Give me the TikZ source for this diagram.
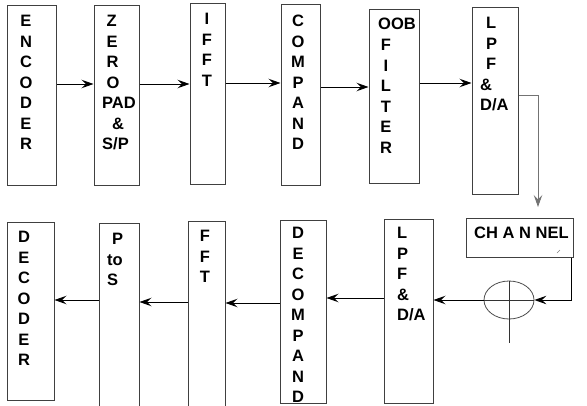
\documentclass[tikz,border=0pt]{standalone}
\usepackage{fontspec}
\setmainfont{Liberation Sans}
\usetikzlibrary{arrows.meta,shapes.geometric}
\tikzset{
  blk/.style={draw=black!75, line width=1pt, rectangle, inner sep=0pt},
  txt/.style={inner sep=0pt, font=\fontsize{16.5}{20.5}\selectfont\bfseries},
  arr/.style={draw=black, line width=0.9pt, -{Stealth[length=12pt,width=8.5pt,inset=4.5pt]}},
}
\begin{document}
\begin{tikzpicture}[x=1pt,y=-1pt]
\useasboundingbox (0,0) rectangle (587,405);
\clip (0,0) rectangle (587,405);
% top row boxes
\node[blk, minimum width=49pt, minimum height=180pt] (enc) at (31.5,95) {};
\node[blk, minimum width=45pt, minimum height=180pt] (zero) at (116.5,95) {};
\node[blk, minimum width=35pt, minimum height=181pt] (ifft) at (207.5,93.5) {};
\node[blk, minimum width=39pt, minimum height=181pt] (comp) at (300.5,94.5) {};
\node[blk, minimum width=50pt, minimum height=174pt] (oob) at (394,96) {};
\node[blk, minimum width=46pt, minimum height=187pt] (lpfa) at (495,100.5) {};
\node[blk, minimum width=107pt, minimum height=39pt] (chan) at (519.5,237.5) {};
% bottom row boxes
\node[blk, minimum width=49pt, minimum height=184pt] (lpfb) at (408.5,311) {};
\node[blk, minimum width=46pt, minimum height=183pt] (decomp) at (303,311.5) {};
\node[blk, minimum width=37pt, minimum height=189pt] (fft) at (206.5,315.5) {};
\node[blk, minimum width=40pt, minimum height=187pt] (pts) at (119,316.5) {};
\node[blk, minimum width=47pt, minimum height=178pt] (dec) at (30.5,311) {};
% texts
\node[txt, anchor=north, align=center] (tenc) at (26,15) {E\\N\\C\\O\\D\\E\\R};
\node[txt, anchor=north west, align=left] (tzero) at (102,15) {\hspace{4.5pt}Z\\\hspace{4.5pt}E\\\hspace{4.5pt}R\\\hspace{4.5pt}O\\PAD\\\hspace{10pt}\&\\S/P};
\node[txt, anchor=north, align=center] (tifft) at (207,13) {I\\F\\F\\T};
\node[txt, anchor=north, align=center] (tcomp) at (298,15) {C\\O\\M\\P\\A\\N\\D};
\node[txt, anchor=north] (toob) at (397,18) {OOB};
\node[txt, anchor=north, align=center] (tfilt) at (386,39) {F\\I\\L\\T\\E\\R};
\node[txt, anchor=north west, align=left] (tlpfa) at (480,17) {\hspace{6pt}L\\\hspace{6pt}P\\\hspace{6pt}F\\\&\\D/A};
\node[txt, anchor=west] (tchan) at (474,233) {CH A N NEL};
\node[txt, anchor=north west, align=left] (tlpfb) at (397,227) {L\\P\\F\\\&\\D/A};
\node[txt, anchor=north, align=center] (tdecomp) at (298,227) {D\\E\\C\\O\\M\\P\\A\\N\\D};
\node[txt, anchor=north, align=center] (tfft) at (205,230) {F\\F\\T};
\node[txt, anchor=north west, align=left] (tpts) at (107,233) {\hspace{5pt}P\\to\\S};
\node[txt, anchor=north, align=center] (tdec) at (24,231) {D\\E\\C\\O\\D\\E\\R};
% summing junction
\node[draw=black!70, line width=0.8pt, ellipse, minimum width=50pt, minimum height=38pt, inner sep=0pt] (sum) at (509,300) {};
\draw[black!80, line width=0.8pt] (sum.north) -- ([yshift=-24pt]sum.south);
\draw[black!80, line width=0.8pt] ([xshift=-3pt]sum.west) -- (sum.east);
\draw[gray, line width=0.6pt] (557,253) -- (560,250);
% top connectors
\draw[arr] (enc.east |- 0,84) -- (zero.west |- 0,84);
\draw[arr] (zero.east |- 0,84) -- (ifft.west |- 0,84);
\draw[arr] (ifft.east |- 0,83) -- (comp.west |- 0,83);
\draw[arr] (comp.east |- 0,87) -- (oob.west |- 0,87);
\draw[arr] (oob.east |- 0,83) -- (lpfa.west |- 0,83);
\coordinate (chin) at (538,207);
\draw[arr, draw=black!55] (lpfa.east |- 0,95) -| (chin);
% bottom connectors
\draw[arr] ([xshift=-2pt]chan.south east) |- (sum.east);
\draw[arr] (sum.west) -- (lpfb.east |- 0,300);
\draw[arr] (lpfb.west |- 0,298) -- (decomp.east |- 0,298);
\draw[arr] (decomp.west |- 0,303) -- (fft.east |- 0,303);
\draw[arr] (fft.west |- 0,302) -- (pts.east |- 0,302);
\draw[arr] (pts.west |- 0,300) -- (dec.east |- 0,300);
\end{tikzpicture}
\end{document}
